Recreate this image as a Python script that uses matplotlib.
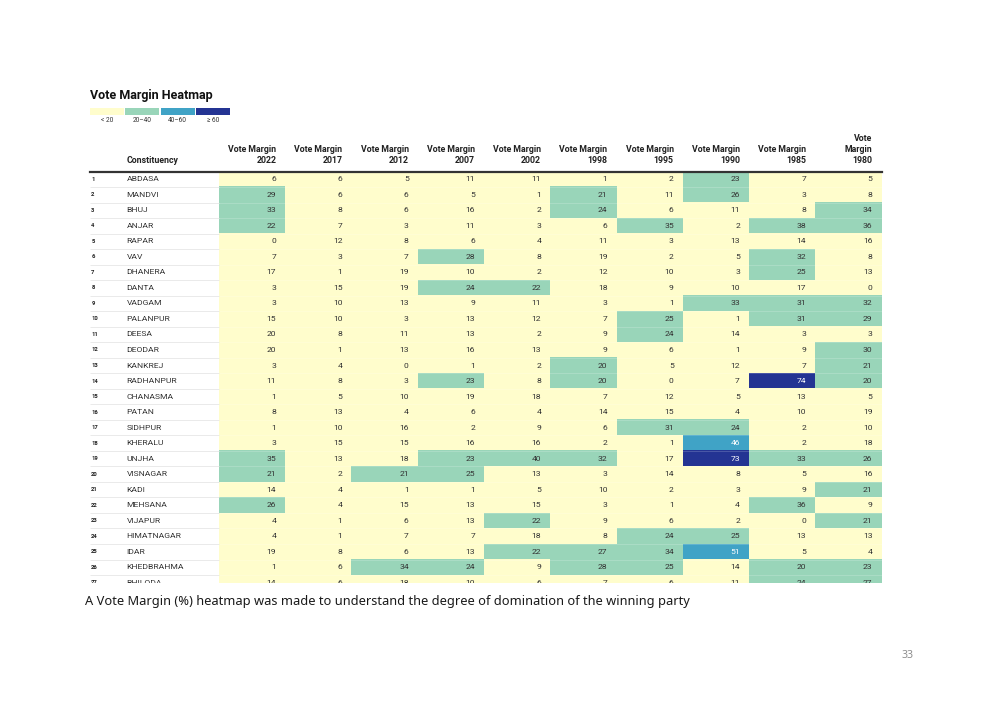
import matplotlib
matplotlib.use('Agg')
import numpy as np
import matplotlib.pyplot as plt
from matplotlib.colors import ListedColormap, BoundaryNorm

# Datos de la tabla
constituencies = ['ABDASA', 'MANDVI', 'BHUJ', 'ANJAR', 'RAPAR', 'VAV', 'DHANERA', 'DANTA',
                  'VADGAM', 'PALANPUR', 'DEESA', 'DEODAR', 'KANKREJ', 'RADHANPUR', 'CHANASMA',
                  'PATAN', 'SIDHPUR', 'KHERALU', 'UNJHA', 'VISNAGAR', 'KADI', 'MEHSANA',
                  'VIJAPUR', 'HIMATNAGAR', 'IDAR', 'KHEDBRAHMA', 'BHILODA']
years = [2022, 2017, 2012, 2007, 2002, 1998, 1995, 1990, 1985, 1980]

margin_2022 = [6, 29, 33, 22, 0, 7, 17, 3, 3, 15, 19.8, 19.8, 3, 11, 1, 8, 1, 3, 35, 21, 14, 26, 4, 4, 19, 1, 14]
margin_2017 = [6, 6, 8, 7, 12, 3, 1, 15, 10, 10, 8, 1, 4, 8, 5, 13, 10, 15, 13, 2, 4, 4, 1, 1, 8, 6, 6]
margin_2012 = [5, 6, 6, 3, 8, 7, 19, 19, 13, 3, 11, 13, 0, 3, 10, 4, 16, 15, 18, 21, 1, 15, 6, 7, 6, 34, 18]
margin_2007 = [11, 5, 16, 11, 6, 28, 10, 24, 9, 13, 13, 16, 1, 23, 19, 6, 2, 16, 23, 25, 1, 13, 13, 7, 13, 24, 10]
margin_2002 = [11, 1, 2, 3, 4, 8, 2, 22, 11, 12, 2, 13, 2, 8, 18, 4, 9, 16, 39.8, 13, 5, 15, 22, 18, 22, 9, 6]
margin_1998 = [1, 21, 24, 6, 11, 19, 12, 18, 3, 7, 9, 9, 20.2, 20.2, 7, 14, 6, 2, 32, 3, 10, 3, 9, 8, 27, 28, 7]
margin_1995 = [2, 11, 6, 35, 3, 2, 10, 9, 1, 25, 24, 6, 5, 0, 12, 15, 31, 1, 17, 14, 2, 1, 6, 24, 34, 25, 6]
margin_1990 = [23, 26, 11, 2, 13, 5, 3, 10, 33, 1, 14, 1, 12, 7, 5, 4, 24, 46, 73, 8, 3, 4, 2, 25, 51, 14, 11]
margin_1985 = [7, 3, 8, 38, 14, 32, 25, 17, 31, 31, 3, 9, 7, 74, 13, 10, 2, 2, 33, 5, 9, 36, 0, 13, 5, 20.2, 24]
margin_1980 = [5, 8, 34, 36, 16, 8, 13, 0, 32, 29, 3, 30, 21, 20.2, 5, 19, 10, 18, 26, 16, 21, 9, 21, 13, 4, 23, 27]

bins = [0, 20, 40, 60, 100]
bin_labels = ['< 20', '20–40', '40–60', '≥ 60']
colours = ['#fffdcc', '#99d5b9', '#40a3c6', '#243493']

margins = np.column_stack([margin_2022, margin_2017, margin_2012, margin_2007, margin_2002,
                           margin_1998, margin_1995, margin_1990, margin_1985, margin_1980])

plt.rcParams['font.family'] = ['Roboto', 'DejaVu Sans']

W, H = 1000, 708
fig = plt.figure(figsize=(W / 100, H / 100), dpi=100)
fig.patch.set_facecolor('white')

# Titulo y leyenda
fig.text(90 / W, 1 - 95 / H, 'Vote Margin Heatmap', fontsize=9.0, weight='bold',
         va='center', color='#111111')

lax = fig.add_axes([90 / W, 1 - 114.5 / H, 140 / W, 7 / H])
lax.barh(0, 0.96, left=np.arange(len(colours)), height=1, color=colours, align='edge')
for i, lab in enumerate(bin_labels):
    lax.text(i + 0.48, -0.85, lab, ha='center', va='center', fontsize=4.7, color='#333333')
lax.set_xlim(0, len(colours) - 0.04)
lax.set_ylim(0, 1)
lax.axis('off')

# Tabla
cell_left = 219.3
cell_w = (881.7 - cell_left) / len(years)
row_h = 15.52
top, bottom = 171.5, 583.3
left = 90
x0 = -0.5 - (cell_left - left) / cell_w

ax = fig.add_axes([left / W, 1 - bottom / H, (881.7 - left) / W, (bottom - top) / H])
cmap = ListedColormap(colours)
norm = BoundaryNorm(bins, cmap.N)
n = len(constituencies)
ax.imshow(margins, cmap=cmap, norm=norm, aspect='auto', interpolation='nearest',
          extent=(-0.5, len(years) - 0.5, n - 0.5, -0.5), zorder=1)
ax.set_xlim(x0, len(years) - 0.5)
ax.set_ylim(-0.5 + (bottom - top) / row_h, -0.5)
ax.axis('off')

# Separadores de filas
for k in range(1, n):
    ax.hlines(k - 0.5, x0, -0.5, color='#e6e6e6', lw=0.6, zorder=2)
    ax.hlines(k - 0.5, -0.5, len(years) - 0.5, color='white', lw=0.5, alpha=0.25, zorder=2)
ax.axhline(-0.5, color='#333333', lw=1.6, clip_on=False, zorder=3)

name_x = x0 + (126.7 - left) / cell_w
for i, name in enumerate(constituencies):
    ax.text(x0 + 0.02, i, str(i + 1), fontsize=4.2, weight='bold', va='center',
            color='#222222', clip_on=True)
    ax.text(name_x, i, name, fontsize=6.1, va='center', color='#333333', clip_on=True)
    for j in range(len(years)):
        v = margins[i, j]
        ax.text(j + 0.5 - 0.14, i, f'{v:.0f}', ha='right', va='center', fontsize=6.1,
                color='white' if v >= 40 else '#333333', clip_on=True, zorder=4)

# Encabezados
ax.text(name_x, -0.5 - 0.42, 'Constituency', fontsize=6.3, weight='bold', va='bottom',
        color='#222222', clip_on=False)
for j, y in enumerate(years):
    head = f'Vote\nMargin\n{y}' if j == len(years) - 1 else f'Vote Margin\n{y}'
    ax.text(j + 0.5 - 0.14, -0.5 - 0.42, head, ha='right', va='bottom', fontsize=6.3,
            weight='bold', linespacing=1.25, color='#222222', clip_on=False)

fig.text(85 / W, 1 - 601 / H,
         'A Vote Margin (%) heatmap was made to understand the degree of domination of the winning party',
         fontsize=9.25, family=['Noto Sans', 'DejaVu Sans'], va='center', color='#1a1a1a')
fig.text(908 / W, 1 - 656 / H, '33', fontsize=7.5, ha='center', va='center',
         family=['Noto Sans', 'DejaVu Sans'], color='#8c8c8c')

fig.savefig('out.png', dpi=100)
